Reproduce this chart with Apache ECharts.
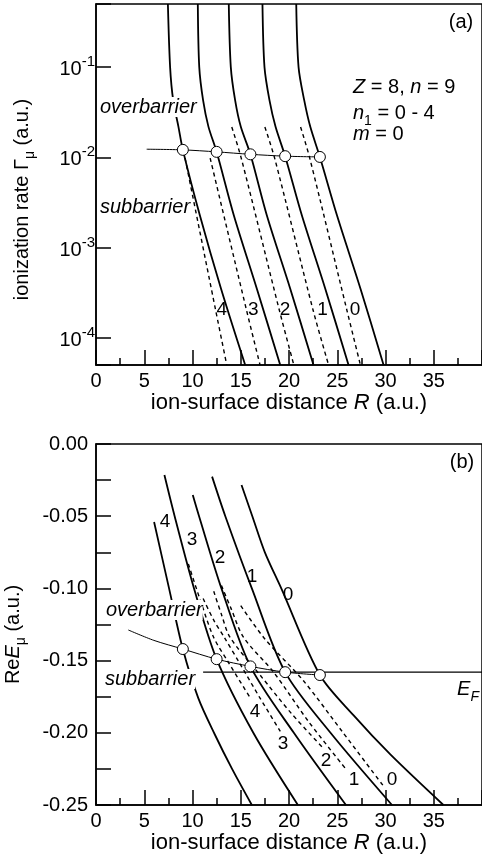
<!DOCTYPE html>
<html>
<head>
<meta charset="utf-8">
<title>ionization rate and energy vs ion-surface distance</title>
<style>
  html, body { margin: 0; padding: 0; background: #ffffff; }
  #chart-container { width: 482px; height: 860px; }
</style>
</head>
<body>
<div id="chart-container"></div>
<script src="https://cdn.jsdelivr.net/npm/echarts@6.0.0/dist/echarts.min.js"></script>
<script type="text/javascript">
// every curve list goes left to right, i.e. n1 = 4, 3, 2, 1, 0
var curveNames = ['4', '3', '2', '1', '0'];

// open circles: crossing from overbarrier to subbarrier
var circleR = [9.0, 12.5, 16.0, 19.6, 23.2];
var circleRate = [0.0121, 0.0115, 0.0108, 0.0103, 0.0101];
var circleE = [-0.142, -0.149, -0.154, -0.158, -0.160];

// ---------- panel (a): ionization rate (log scale) ----------
var aRateUpper = [0.5, 0.1, 0.0427, 0.0219];      // above the circle
var aRateLower = [0.00228, 0.000352, 0.00005];     // below the circle
var aSolidR4 = [7.45, 7.68, 8.0, 8.54, 9.0, 10.76, 12.95, 15.46];
var aSolidR3 = [10.55, 10.7, 11.1, 11.65, 12.5, 14.28, 16.66, 19.09];
var aSolidR2 = [13.76, 13.97, 14.42, 15.0, 16.0, 17.7, 20.12, 22.54];
var aSolidR1 = [17.25, 17.46, 17.98, 18.6, 19.6, 21.33, 23.75, 26.17];
var aSolidR0 = [20.75, 20.99, 21.58, 22.2, 23.2, 24.97, 27.4, 29.8];

var aRateDash = [0.0217, 0.0098, 0.000202, 0.00005];
var aDashR4 = [null, 9.23, 12.4, 13.55];
var aDashR3 = [null, 11.83, 15.6, 17.0];
var aDashR2 = [14.07, 15.05, 19.0, 20.5];
var aDashR1 = [17.5, 18.51, 22.5, 24.1];
var aDashR0 = [21.2, 22.15, 26.0, 27.4];

var aLineStartR = 5.25;
var aLineStartRate = 0.0123;

// ---------- panel (b): Re E (a.u.) ----------
var bSolidR4 = [6.02, 7.57, 9.0, 10.6, 12.3, 14.1, 16.15];
var bSolidE4 = [-0.054, -0.100, -0.142, -0.176, -0.201, -0.225, -0.25];
var bSolidR3 = [7.09, 8.15, 10.16, 12.5, 16.3, 20.92];
var bSolidE3 = [-0.0215, -0.05, -0.10, -0.149, -0.20, -0.25];
var bSolidR2 = [10.03, 10.68, 13.0, 16.0, 20.5, 25.9];
var bSolidE2 = [-0.0353, -0.05, -0.10, -0.154, -0.20, -0.25];
var bSolidR1 = [12.03, 13.4, 16.15, 19.6, 24.3, 30.67];
var bSolidE1 = [-0.0226, -0.05, -0.10, -0.158, -0.20, -0.25];
var bSolidR0 = [15.08, 16.2, 17.5, 19.2, 23.2, 26.7, 30.5, 36.0];
var bSolidE0 = [-0.0284, -0.05, -0.075, -0.10, -0.160, -0.188, -0.215, -0.25];

var bDashR4 = [9.57, 10.9, 12.2, 13.7, 16.0];
var bDashE4 = [-0.083, -0.11, -0.134, -0.151, -0.176];
var bDashR3 = [11.1, 12.2, 13.3, 14.9, 17.0, 19.1];
var bDashE3 = [-0.107, -0.122, -0.134, -0.152, -0.176, -0.199];
var bDashR2 = [12.2, 13.0, 13.9, 17.0, 20.3, 23.6];
var bDashE2 = [-0.102, -0.118, -0.134, -0.160, -0.187, -0.211];
var bDashR1 = [13.0, 14.0, 15.3, 18.4, 22.0, 26.0];
var bDashE1 = [-0.098, -0.114, -0.134, -0.158, -0.192, -0.226];
var bDashR0 = [15.0, 17.5, 21.5, 25.5, 29.8];
var bDashE0 = [-0.112, -0.135, -0.164, -0.199, -0.237];

var bLineStartR = [3.35, 6.0];
var bLineStartE = [-0.1288, -0.136];

var fermiR = [11.1, 40];
var fermiE = -0.158;

// ---------------------------------------------------------
var FONT = '"Liberation Sans", Arial, sans-serif';

function pairs(xs, ys) {
    var out = [];
    for (var i = 0; i < xs.length; i++) {
        var y = Array.isArray(ys) ? ys[i] : ys;
        if (xs[i] == null || y == null) continue;
        out.push([xs[i], y]);
    }
    return out;
}

function curve(data, idx, dashed, width) {
    return {
        type: 'line',
        xAxisIndex: idx,
        yAxisIndex: idx,
        data: data,
        symbol: 'none',
        smooth: 0.3,
        silent: true,
        z: 2,
        lineStyle: {
            color: '#000',
            width: width || 1.8,
            type: dashed ? [4, 3.5] : 'solid'
        }
    };
}

function circles(idx, ys) {
    return {
        type: 'scatter', xAxisIndex: idx, yAxisIndex: idx, z: 5, silent: true,
        data: pairs(circleR, ys),
        symbol: 'circle', symbolSize: 11,
        itemStyle: { color: '#fff', borderColor: '#000', borderWidth: 1, opacity: 1 }
    };
}

var series = [];

// (a) solid curves
var aSolid = [aSolidR4, aSolidR3, aSolidR2, aSolidR1, aSolidR0];
for (var k = 0; k < 5; k++) {
    var rates = aRateUpper.concat([circleRate[k]], aRateLower);
    series.push(curve(pairs(aSolid[k], rates), 0, false));
}
// (a) dashed curves
var aDash = [aDashR4, aDashR3, aDashR2, aDashR1, aDashR0];
for (var k = 0; k < 5; k++) {
    series.push(curve(pairs(aDash[k], aRateDash), 0, true, 1.4));
}
// (a) thin line through circles
series.push(curve(pairs([aLineStartR].concat(circleR), [aLineStartRate].concat(circleRate)), 0, false, 1));
series.push(circles(0, circleRate));

// (b) solid curves
var bSolid = [[bSolidR4, bSolidE4], [bSolidR3, bSolidE3], [bSolidR2, bSolidE2], [bSolidR1, bSolidE1], [bSolidR0, bSolidE0]];
bSolid.forEach(function (c) { series.push(curve(pairs(c[0], c[1]), 1, false)); });
var bDash = [[bDashR4, bDashE4], [bDashR3, bDashE3], [bDashR2, bDashE2], [bDashR1, bDashE1], [bDashR0, bDashE0]];
bDash.forEach(function (c) { series.push(curve(pairs(c[0], c[1]), 1, true, 1.4)); });
// Fermi level
series.push(curve(pairs(fermiR, fermiE), 1, false, 1.4));
// thin line through circles
series.push(curve(pairs(bLineStartR.concat(circleR), bLineStartE.concat(circleE)), 1, false, 1));
series.push(circles(1, circleE));

// ---------- axes ----------
var blackLine = { color: '#000', width: 1.5 };

function xAxisFor(idx, gap) {
    return {
        type: 'value', gridIndex: idx, min: 0, max: 40, interval: 5,
        axisLine: { show: true, onZero: false, lineStyle: blackLine },
        axisTick: { show: true, inside: true, length: 15, lineStyle: blackLine },
        minorTick: { show: true, splitNumber: 2, length: 7, lineStyle: blackLine },
        splitLine: { show: false },
        axisLabel: {
            color: '#000', fontSize: 20, fontFamily: FONT, margin: 6,
            formatter: function (v) { return v === 40 ? '' : String(v); }
        },
        name: '{t|ion-surface distance }{i|R}{t| (a.u.)}',
        nameLocation: 'middle', nameGap: gap,
        nameTextStyle: {
            rich: {
                t: { fontSize: 22, fontFamily: FONT, color: '#000' },
                i: { fontSize: 22, fontFamily: FONT, fontStyle: 'italic', color: '#000' }
            }
        }
    };
}

var option = {
    animation: false,
    backgroundColor: '#fff',
    grid: [
        { left: 96, top: 4, width: 386, height: 361, show: true, borderColor: '#000', borderWidth: 1.5, outerBoundsMode: 'none', containLabel: false },
        { left: 96, top: 444, width: 386, height: 361, show: true, borderColor: '#000', borderWidth: 1.5, outerBoundsMode: 'none', containLabel: false }
    ],
    xAxis: [xAxisFor(0, 24), xAxisFor(1, 22)],
    yAxis: [
        {
            type: 'log', gridIndex: 0, logBase: 10, min: 0.00005, max: 0.5,
            axisLine: { show: true, onZero: false, lineStyle: blackLine },
            axisTick: { show: true, inside: true, length: 15, lineStyle: blackLine },
            splitLine: { show: false },
            axisLabel: {
                margin: 1,
                formatter: function (v) {
                    var p = Math.log10(v), e = Math.round(p);
                    if (Math.abs(p - e) > 1e-6) return '';
                    return '{b|10}{s|' + e + '}';
                },
                rich: {
                    b: { fontSize: 20, fontFamily: FONT, color: '#000', verticalAlign: 'bottom' },
                    s: { fontSize: 15, fontFamily: FONT, color: '#000', verticalAlign: 'bottom', padding: [0, 0, 10, 0] }
                }
            },
            name: '{t|ionization rate Γ}{m|μ}{t| (a.u.)}',
            nameLocation: 'middle', nameGap: 59,
            nameTextStyle: {
                padding: [0, 30, 0, 0],
                rich: {
                    t: { fontSize: 20, fontFamily: FONT, color: '#000', verticalAlign: 'bottom', padding: [0, 0, 5, 0] },
                    m: { fontSize: 14, fontFamily: FONT, color: '#000', verticalAlign: 'bottom' }
                }
            }
        },
        {
            type: 'value', gridIndex: 1, min: -0.25, max: 0, interval: 0.025,
            axisLine: { show: true, onZero: false, lineStyle: blackLine },
            axisTick: { show: true, inside: true, length: 15, lineStyle: blackLine },
            splitLine: { show: false },
            axisLabel: {
                color: '#000', fontSize: 20, fontFamily: FONT, margin: 8,
                formatter: function (v) {
                    return Math.round(v * 1000) % 50 === 0 ? v.toFixed(2) : '';
                }
            },
            name: '{t|Re}{i|E}{m|μ}{t| (a.u.)}',
            nameLocation: 'middle', nameGap: 68,
            nameTextStyle: {
                padding: [0, 20, 0, 0],
                rich: {
                    t: { fontSize: 20, fontFamily: FONT, color: '#000', verticalAlign: 'bottom', padding: [0, 0, 5, 0] },
                    i: { fontSize: 20, fontFamily: FONT, fontStyle: 'italic', color: '#000', verticalAlign: 'bottom', padding: [0, 0, 5, 0] },
                    m: { fontSize: 14, fontFamily: FONT, color: '#000', verticalAlign: 'bottom' }
                }
            }
        }
    ],
    series: series
};

// ---------- annotations ----------
function tok(size, italic, extra) {
    var s = { fontSize: size, fontFamily: FONT, fontStyle: italic ? 'italic' : 'normal', fill: '#000' };
    for (var key in extra || {}) s[key] = extra[key];
    return s;
}
function label(x, y, text, o) {
    o = o || {};
    var align = o.align || 'center';
    return {
        type: 'text', x: x, y: y, z: 100, silent: true,
        style: {
            text: text, fill: '#000',
            fontSize: o.size || 20, fontFamily: FONT, fontStyle: o.italic ? 'italic' : 'normal',
            align: align, textAlign: align, verticalAlign: 'middle', textVerticalAlign: 'middle',
            backgroundColor: o.bg ? '#fff' : null,
            rich: o.rich
        }
    };
}

var subRich = {
    t: tok(20, false, { verticalAlign: 'bottom', padding: [0, 0, 5, 0] }),
    i: tok(20, true, { verticalAlign: 'bottom', padding: [0, 0, 5, 0] }),
    s: tok(14, false, { verticalAlign: 'bottom' }),
    si: tok(14, true, { verticalAlign: 'bottom' })
};

var graphics = [
    label(461, 22, '(a)', { size: 20 }),
    label(353, 90, '{i|Z}{t| = 8, }{i|n}{t| = 9}', { align: 'left', rich: subRich }),
    label(353, 116, '{i|n}{s|1}{t| = 0 - 4}', { align: 'left', rich: subRich }),
    label(353, 137, '{i|m}{t| = 0}', { align: 'left', rich: subRich }),
    label(100, 107, 'overbarrier', { align: 'left', italic: true, bg: true }),
    label(100, 207, 'subbarrier', { align: 'left', italic: true, bg: true }),

    label(462, 462, '(b)', { size: 20 }),
    label(106, 610, 'overbarrier', { align: 'left', italic: true, bg: true }),
    label(105, 679, 'subbarrier', { align: 'left', italic: true, bg: true }),
    label(479, 692, '{i|E}{si|F}', { align: 'right', rich: subRich })
];

var aLabelX = [221.7, 253.3, 285, 322.5, 355];
var bUpperLabelXY = [[165, 522], [192, 540], [220, 558], [252, 577], [288, 595]];
var bLowerLabelXY = [[255, 712], [283, 744], [326, 761], [354, 780], [392, 780]];
for (var k = 0; k < 5; k++) {
    graphics.push(label(aLabelX[k], 310, curveNames[k], { size: 19 }));
    graphics.push(label(bUpperLabelXY[k][0], bUpperLabelXY[k][1], curveNames[k], { size: 19 }));
    graphics.push(label(bLowerLabelXY[k][0], bLowerLabelXY[k][1], curveNames[k], { size: 19 }));
}
option.graphic = graphics;

var dom = document.getElementById('chart-container');
var myChart = echarts.init(dom, null, { renderer: 'canvas' });
myChart.setOption(option);
window.addEventListener('resize', myChart.resize);
</script>
</body>
</html>
